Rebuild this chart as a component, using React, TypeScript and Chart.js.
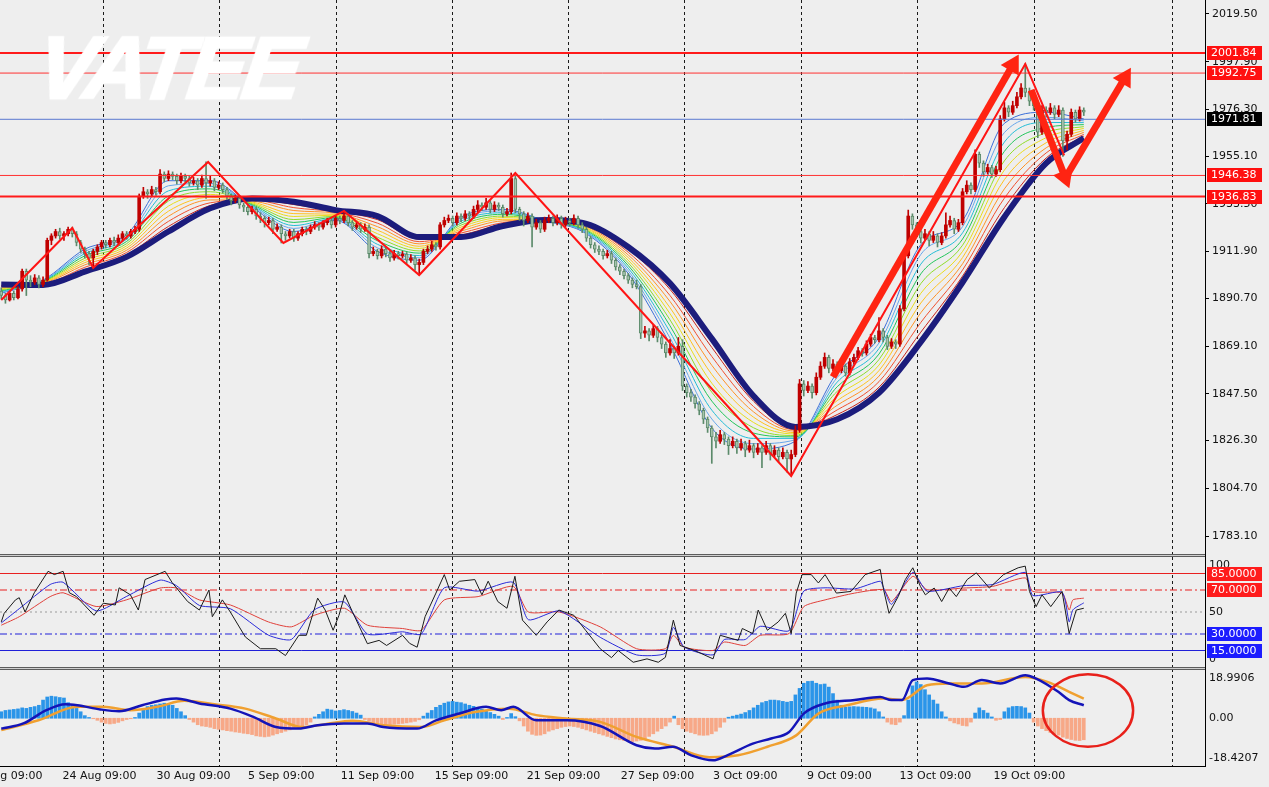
import React, { useEffect, useRef } from 'react';
import { Chart, registerables } from 'chart.js';

Chart.register(...registerables);

// ---------------- DATA ----------------
// H4 candles: [open, high, low, close], bar index = array position
const candles: number[][] = [
  [1894,1895.5,1890.5,1892],[1892,1893,1888.5,1890],[1890,1894,1889.5,1893],[1893,1894,1890,1891],[1891,1896,1890.5,1895],
  [1895,1904,1894,1903],[1903,1904,1892,1899],[1899,1901,1896,1898],[1898,1901.5,1897,1900],[1900,1901,1895.5,1897],
  [1897,1900.5,1896,1899],[1899,1918,1898.5,1917],[1917,1920,1915,1919],[1919,1922,1918,1921],[1921,1922.5,1917.5,1919],
  [1919,1921,1917,1920],[1920,1923,1919,1922],[1922,1923,1918.5,1920],[1920,1921,1914.5,1916],[1916,1917,1911.5,1913],
  [1913,1914,1909,1911],[1911,1912,1906,1909],[1909,1913,1904.5,1912],[1912,1915,1910.5,1914],[1914,1917,1913,1916],
  [1916,1917,1913.5,1915],[1915,1918,1914,1917],[1917,1918.5,1914.5,1916],[1916,1919.5,1915,1918],[1918,1921,1917,1920],
  [1920,1921,1917.5,1919],[1919,1922,1918,1921],[1921,1923.5,1920,1922],[1922,1938,1921,1937],[1937,1941,1936,1939],
  [1939,1940,1936,1938],[1938,1941.5,1937,1940],[1940,1941,1937.5,1939],[1939,1949,1938,1947],[1947,1948,1943.5,1945],
  [1945,1948.5,1944,1947],[1947,1948,1944.5,1946],[1946,1947,1942.5,1944],[1944,1947.5,1943,1946],[1946,1947,1943.5,1945],
  [1945,1946,1941.5,1943],[1943,1945.5,1942,1944],[1944,1945,1940,1942],[1942,1946.5,1941,1945],[1945,1952.5,1936,1943],
  [1943,1946,1941.5,1944],[1944,1945,1939.5,1941],[1941,1943.5,1940,1942],[1942,1943,1938.5,1940],[1940,1941,1935.5,1937],
  [1937,1938,1933,1935],[1935,1937.5,1934,1936],[1936,1937,1931.5,1933],[1933,1934,1930,1932],[1932,1933,1928.5,1930],
  [1930,1932.5,1929,1931],[1931,1932,1926.5,1928],[1928,1929.5,1925,1927],[1927,1928,1923,1925],[1925,1927.5,1924,1926],
  [1926,1927,1920,1922],[1922,1924.5,1921,1923],[1923,1924,1915.8,1920],[1920,1921,1917,1919],[1919,1922,1918,1921],
  [1921,1922,1916.5,1918],[1918,1921,1917,1920],[1920,1923,1919,1922],[1922,1923,1919.5,1921],[1921,1924,1920,1923],
  [1923,1925.5,1922,1924],[1924,1925,1921.5,1923],[1923,1926,1922,1925],[1925,1927,1924,1926],[1926,1927,1922.5,1924],
  [1924,1928,1923,1927],[1927,1928,1924.5,1926],[1926,1930.3,1925,1928],[1928,1929,1923.5,1925],[1925,1926,1921.5,1923],
  [1923,1925.5,1922,1924],[1924,1925,1920.5,1922],[1922,1924.5,1921,1923],[1923,1924,1909,1911],[1911,1914,1910,1912],
  [1912,1913,1908.5,1910],[1910,1914.5,1909,1913],[1913,1914,1909.5,1911],[1911,1912,1907.5,1909],[1909,1912.5,1908,1911],
  [1911,1912,1908.5,1910],[1910,1912,1909,1910.8],[1910.8,1911.5,1906.5,1908],[1908,1910.5,1907,1909],[1909,1910,1903.5,1906],
  [1906,1908.5,1901.3,1907],[1907,1913,1906,1912],[1912,1914.5,1911,1913],[1913,1916.5,1912,1915],[1915,1916,1912.5,1914],
  [1914,1925,1913,1924],[1924,1927.5,1923,1926],[1926,1928.5,1925,1927],[1927,1928,1923.5,1925],[1925,1929.5,1924,1928],
  [1928,1929,1925.5,1927],[1927,1930.5,1926,1929],[1929,1930,1926.5,1928],[1928,1932.5,1927,1931],[1931,1935,1930,1933],
  [1933,1934,1930.5,1932],[1932,1936,1931,1934],[1934,1935,1929.5,1931],[1931,1934.5,1930,1933],[1933,1934,1930.5,1932],
  [1932,1933,1927.5,1929],[1929,1931.5,1928,1930],[1930,1947.5,1929,1945],[1945,1946,1929.5,1931],[1931,1932,1926,1929],
  [1929,1930,1923.5,1926],[1926,1929.5,1925,1928],[1928,1929,1914,1923],[1923,1926.5,1922,1925],[1925,1926,1920.5,1922],
  [1922,1927.5,1921,1926],[1926,1928.5,1925,1927],[1927,1928,1923.5,1925],[1925,1928.5,1924,1927],[1927,1928,1922.5,1924],
  [1924,1927.5,1923,1926],[1926,1927,1923.5,1925],[1925,1928.5,1924,1927],[1927,1928,1922.5,1924],[1924,1925,1920.5,1922],
  [1922,1923,1916.5,1918],[1918,1919,1913.5,1915],[1915,1916,1911.5,1913],[1913,1914.5,1910.5,1912],[1912,1913,1908.5,1910],
  [1910,1912.5,1909,1911],[1911,1912,1906.5,1908],[1908,1909,1903.5,1905],[1905,1906,1901.5,1903],[1903,1904,1899.5,1901],
  [1901,1902,1897.5,1899],[1899,1900,1895.5,1897],[1897,1899,1895,1896],[1896,1897,1872.5,1875],[1875,1878,1873,1876],
  [1876,1877,1871.5,1874],[1874,1878.5,1873,1877],[1877,1878,1871,1873],[1873,1874,1868,1870],[1870,1871,1864,1866],
  [1866,1872,1865,1868],[1868,1869,1863.5,1866],[1866,1873,1865,1869],[1869,1872,1849,1851],[1851,1852,1846,1848],
  [1848,1849.5,1844,1846],[1846,1847,1841,1843],[1843,1844,1838,1840],[1840,1841,1834,1836],[1836,1837,1830,1832],
  [1832,1833,1816,1828],[1828,1830,1823,1826],[1826,1831,1825,1829],[1829,1830,1824.5,1827],[1827,1828,1820,1824],
  [1824,1828,1823,1826],[1826,1827,1820.5,1823],[1823,1827,1822,1825],[1825,1826,1819,1822],[1822,1826.5,1821,1824],
  [1824,1825,1818.5,1821],[1821,1825,1820,1823],[1823,1824,1814,1821],[1821,1826,1820,1824],[1824,1825,1817.5,1820],
  [1820,1824,1819,1822],[1822,1823,1816.5,1819],[1819,1823,1818,1821],[1821,1822,1812,1818],[1818,1822,1810.3,1820],
  [1820,1833,1819,1831],[1831,1854,1830,1852],[1852,1853.5,1846.5,1849],[1849,1853,1848,1851],[1851,1852,1845.5,1848],
  [1848,1857,1847,1855],[1855,1862,1854,1860],[1860,1866,1859,1864],[1864,1865,1857,1859],[1859,1863,1858,1861],
  [1861,1862,1856.5,1858],[1858,1862,1857,1860],[1860,1861,1855.5,1857],[1857,1863.5,1856,1862],[1862,1865.5,1861,1864],
  [1864,1868.5,1863,1867],[1867,1868,1864.5,1866],[1866,1871.5,1865,1870],[1870,1874.5,1869,1873],[1873,1874,1870.5,1872],
  [1872,1882,1871,1876],[1876,1877,1871,1873],[1873,1874,1867.5,1869],[1869,1872.5,1868,1871],[1871,1872,1868,1870],
  [1870,1887.5,1869,1886],[1886,1911,1885,1910],[1910,1930.7,1909,1928],[1928,1929,1922,1924],[1924,1925,1919,1921],
  [1921,1922,1915.8,1918],[1918,1922,1917,1920],[1920,1921,1914.5,1917],[1917,1921,1916,1919],[1919,1920,1914,1916],
  [1916,1920.5,1915,1919],[1919,1929.4,1918,1924],[1924,1928,1923,1926],[1926,1927,1920,1922],[1922,1926.5,1921,1925],
  [1925,1940.5,1924,1939],[1939,1944,1938,1942],[1942,1943,1938,1940],[1940,1958,1939,1956],[1956,1957,1950,1952],
  [1952,1953,1946,1948],[1948,1951.5,1947,1950],[1950,1951,1945.5,1947],[1947,1950.5,1946,1949],[1949,1973.5,1948,1972],
  [1972,1979.5,1971,1977],[1977,1978,1973,1975],[1975,1980,1974,1978],[1978,1984,1977,1982],[1982,1988,1981,1986],
  [1986,1997,1982,1984],[1984,1986,1978,1980],[1980,1982,1976,1978],[1978,1979,1963.5,1966],[1966,1978,1965,1976],
  [1976,1977.5,1973,1975],[1975,1979,1974,1977],[1977,1978,1972,1974],[1974,1978,1973,1976],[1976,1977,1955,1962],
  [1962,1966.5,1958,1965],[1965,1976.5,1964,1975],[1975,1976,1970.5,1972],[1972,1977.5,1971,1976],[1976,1977,1973.5,1975],
];

// moving-average ribbon, sampled at these bars
const maBars = [0,10,20,30,40,50,60,70,80,90,100,110,120,130,140,150,160,170,180,190,200,210,220,230,240,250,259];
const maBlue = [1893,1899,1913,1919.5,1944,1944,1932,1921,1926,1912,1908,1927.5,1931,1926,1920,1902,1870,1832,1822.5,1826,1857,1873,1915,1926,1970,1975,1972];
const maSky = [1893.4,1898.8,1912,1918.5,1941.7,1942.8,1932.4,1922.4,1926.5,1913.6,1909.1,1926.6,1930.3,1926,1920.5,1903.2,1872.8,1836.1,1824.9,1826.7,1854.9,1870.5,1910.6,1923.2,1965.8,1972.7,1971.1];
const maCyan = [1893.8,1898.6,1911,1917.5,1939.4,1941.5,1932.8,1923.7,1926.9,1915.2,1910.1,1925.7,1929.5,1926,1920.9,1904.4,1875.5,1840.1,1827.3,1827.3,1852.8,1868,1906.2,1920.4,1961.5,1970.4,1970.3];
const maGreen = [1894.2,1898.3,1910,1916.5,1937.1,1940.3,1933.2,1925.1,1927.4,1916.8,1911.2,1924.8,1928.8,1926.1,1921.4,1905.6,1878.3,1844.2,1829.7,1828,1850.7,1865.5,1901.8,1917.6,1957.3,1968.1,1969.4];
const maLime = [1894.6,1898.1,1908.9,1915.5,1934.8,1939,1933.6,1926.4,1927.9,1918.4,1912.2,1923.9,1928,1926.1,1921.8,1906.8,1881,1848.2,1832.1,1828.6,1848.6,1863,1897.4,1914.8,1953,1965.8,1968.5];
const maYellow = [1895,1897.9,1907.9,1914.5,1932.5,1937.8,1934,1927.8,1928.4,1920,1913.3,1923,1927.3,1926.1,1922.3,1908,1883.8,1852.3,1834.5,1829.3,1846.5,1860.5,1893,1912,1948.8,1963.5,1967.7];
const maGold = [1895.4,1897.7,1906.9,1913.5,1930.2,1936.5,1934.4,1929.1,1928.8,1921.6,1914.3,1922.1,1926.5,1926.1,1922.7,1909.2,1886.5,1856.3,1836.9,1829.9,1844.4,1858,1888.6,1909.2,1944.5,1961.2,1966.8];
const maOrange = [1895.8,1897.5,1905.9,1912.5,1927.9,1935.3,1934.8,1930.5,1929.3,1923.2,1915.4,1921.2,1925.8,1926.1,1923.2,1910.4,1889.3,1860.4,1839.3,1830.6,1842.3,1855.5,1884.2,1906.4,1940.3,1958.9,1965.9];
const maRed = [1896.2,1897.2,1904.8,1911.5,1925.6,1934,1935.2,1931.8,1929.8,1924.8,1916.4,1920.3,1925,1926.2,1923.6,1911.6,1892,1864.4,1841.7,1831.2,1840.2,1853,1879.8,1903.6,1936.1,1956.6,1965];
const maCrimson = [1896.6,1897,1903.8,1910.5,1923.3,1932.8,1935.6,1933.2,1930.2,1926.4,1917.5,1919.4,1924.3,1926.2,1924.1,1912.8,1894.8,1868.5,1844.1,1831.9,1838.1,1850.5,1875.4,1900.8,1931.8,1954.3,1964.2];
const maNavy = [1897,1896.8,1902.8,1909.5,1921,1931.5,1936,1934.5,1930.7,1928,1918.5,1918.5,1923.5,1926.2,1924.5,1914,1897.5,1872.5,1846.5,1832.5,1836,1848,1871,1898,1927.6,1952,1963.3];

// zigzag vertices [bar, price]
const zigzag = [[0,1890],[17,1922.6],[22,1904.5],[49.5,1952.5],[67.5,1915.8],[82,1930.3],[100,1901.3],[123,1947.5],[189,1810.3],[245,1996.9],[254.3,1955.5]];
// hand-drawn arrows [[bar, price] start, [bar, price] tip]
const arrowRally = [[199,1855.1],[242,1996.4]];
const arrowDrop = [[246.4,1985.1],[254.5,1945.7]];
const arrowNext = [[255,1946.6],[268.8,1990.5]];

// horizontal price levels
const levelPrices = [2001.84, 1992.75, 1971.81, 1946.38, 1936.83];
const priceTicks = [2019.5,1997.9,1976.3,1955.1,1933.5,1911.9,1890.7,1869.1,1847.5,1826.3,1804.7,1783.1];

// time axis
const timeLabels = ['18 Aug 09:00','24 Aug 09:00','30 Aug 09:00','5 Sep 09:00','11 Sep 09:00','15 Sep 09:00','21 Sep 09:00','27 Sep 09:00','3 Oct 09:00','9 Oct 09:00','13 Oct 09:00','19 Oct 09:00'];
const timeLabelBars = [1,23.5,46,67,90,112.5,134.5,157,178,200.5,223.5,246];
const gridBars = [24.4,52.2,80.1,108,135.8,163.5,191.5,219.3,247.2,280.3];

// oscillator pane (three RSI-type lines) [bar, value]
const rsiFast = [[0,41],[0.7,48.8],[3.4,61],[4.3,63],[5.7,50],[7.9,67.5],[11.2,87],[12.7,84],[14.8,87],[16.3,67.5],[18,64],[22.2,47],[24.4,58],[27.3,56.4],[28.2,72],[30.9,65.6],[32.8,51.8],[34.4,79.5],[39.2,87],[40.9,76.7],[44.6,59.5],[47.4,51.8],[49.7,70],[50.5,45.7],[52.9,61],[54.8,50],[58.4,27.3],[62,16.6],[65.7,16.6],[68,10.4],[71.2,28.8],[73,28.8],[75.7,62.6],[77.5,51.8],[79.4,33.4],[80.8,47],[82.2,65.6],[84,50.3],[87.6,21.2],[90.4,24.2],[92.2,19.6],[96,28.8],[97.7,21.5],[99.5,18],[101.4,45.7],[104,67.2],[106,84],[107.3,70],[109.6,77.9],[113.3,79.5],[115,65.6],[116.5,78],[118.8,59.5],[121,53.4],[122.9,82.5],[124.7,42.6],[128,28.8],[130.6,41],[133.4,51.8],[137,47],[139.8,33.4],[143.3,16.6],[146,8.5],[147.6,15],[151.2,4.3],[154.5,7.4],[157.2,4.3],[158.9,8.8],[160.8,42.6],[162.4,19.6],[165.9,15],[170.3,7.4],[172,28.8],[176.3,24.2],[177.3,35],[179.8,30.4],[181.1,51.8],[183.3,33.4],[185.9,41],[187.6,48.8],[189,30.4],[190.2,67.2],[191.6,84],[193.8,84],[195.5,76.4],[197.1,84],[199.8,67.2],[203.3,68.7],[206.7,84],[210.3,88.7],[211.1,70.3],[212.4,48.8],[214.6,64],[216.3,79.5],[218.1,90.2],[219.9,73.3],[221.1,65.6],[223.2,71.8],[225,59.5],[226.8,71.8],[228.5,64],[231.1,79.5],[233.3,85.6],[236.4,71.8],[239.8,84],[243.3,90.2],[245,91.7],[246,68.7],[247.6,54.9],[249,65.6],[251.1,54.9],[253.8,68.7],[255.5,30.4],[257.2,51.8],[259,53.4]];
const rsiMid = [[0,40],[4.3,53],[11.7,75],[14.8,77],[22.7,51],[29.9,64],[38,79],[41.9,74],[47.4,56],[54.8,53],[63.9,29],[69.4,25],[74.9,52],[82.1,59],[87.6,30],[96,32],[100.5,30],[106,72],[114.1,69],[122.5,77],[126.1,43],[133.5,51],[143.3,27],[152,11],[158.9,12.5],[160.8,36],[163.4,18],[170.3,11],[173,25],[178,25],[181.6,37],[188.5,33],[192,69],[197.1,72],[204.2,71],[210.3,78],[211.1,72],[213,57],[218.1,86],[221.5,69],[230.3,74],[237.2,75],[245,86],[246.8,65],[253.8,68],[255.5,41],[256.4,52],[259,58.3]];
const rsiSlow = [[0,38],[4.3,45.7],[11.7,64],[14.8,67.5],[22.7,55],[29.9,61],[38,71.8],[41.9,71.8],[47.4,61],[54.8,56.4],[63.9,41],[69.4,36.5],[74.9,47],[82.1,53.4],[87.6,38],[96,35],[100.5,33.4],[106,61],[114.1,64],[122.5,73.3],[126.1,50],[133.5,50],[143.3,36.5],[152,16.6],[158.9,16.6],[160.8,28.8],[163.4,18],[170.3,15],[173,22.7],[178,19.6],[181.6,28.8],[188.5,30.4],[192,54.9],[197.1,61],[204.2,67.2],[211.1,70.3],[213,59.5],[218.1,82.5],[221.5,70.3],[230.3,71.8],[237.2,73.3],[245,81],[246.8,68.7],[253.8,67.2],[255.5,51.8],[256.4,61],[259,62.6]];
const rsiLevels = [85, 70, 50, 30, 15];
const rsiTickLabels = ['100', '50', '0'];
const rsiTickPositions = [93, 50, 7];

// MACD pane
const macdHist = [
  2.5,3,3.2,3.4,3.6,4,3.8,4.2,4.5,5,
  7,8.2,8.5,8.3,8,7.8,6,5,3.8,2.5,
  1,0.3,-0.2,-0.8,-1.5,-2,-2.2,-2,-1.6,-1,
  -0.5,-0.2,0.3,2,3.5,4.5,5,5.2,5.5,5.8,
  5.5,5,3.8,2.5,1,-0.5,-1.5,-2.5,-3,-3.2,
  -3.5,-4,-4.3,-4.5,-4.8,-5,-5.3,-5.5,-5.8,-6,
  -6.3,-6.8,-7,-7.2,-7,-6.5,-6,-5.5,-5,-4.5,
  -4,-3.5,-3,-2.5,-1.5,0.5,1.5,2.5,3.5,3.2,
  2.8,3,3.3,3,2.6,2,1.2,-0.5,-1.2,-1.8,
  -2.2,-2.4,-2.5,-2.4,-2.3,-2.2,-2,-1.8,-1.5,-1.2,
  -0.6,0.8,2,3,4.2,5,5.8,6.3,6.5,6.2,
  6,5.5,5,4.6,4,3.5,3,2.2,1.5,0.8,
  -0.5,0.3,1.8,0.6,-1,-3,-5,-6.2,-6.6,-6.5,
  -6,-5,-4.5,-4,-3.5,-3.2,-3,-3.2,-3.5,-4,
  -4.5,-5,-5.5,-6,-6.5,-7,-7.5,-8,-8.3,-8.6,
  -8.8,-9,-8.8,-8.5,-8,-7,-6,-5,-4,-3,
  -1.5,0.8,-2.5,-4,-5,-5.5,-6,-6.5,-6.6,-6.5,
  -6,-5,-3.5,-1.5,0.4,0.8,1.2,1.6,2.2,3,
  4,5,6,6.5,7,7,6.8,6.5,6.2,6.5,
  9,11.5,13.5,14.2,14.3,13.5,13,13.2,12,9.5,
  7,5,4.2,4.4,4.5,4.4,4.3,4.2,4,3.6,
  2.5,0.5,-1.5,-2.3,-2.5,-1.5,1,7,12.5,14,
  13,11,9,7,5.5,2.5,0.5,-1,-1.8,-2.2,
  -2.8,-3,-1.5,2,4,3,2,0.5,-0.8,-0.5,
  2.5,4,4.5,4.6,4.5,4,2,-1.5,-3,-4,
  -4.8,-5.5,-6,-6.5,-7.3,-7.8,-8.2,-8.5,-8.6,-8.3,
];
const macdLine = [[0,-4],[5.3,-2],[10.8,3.1],[15.3,5.4],[18.2,5],[23.7,3.4],[28.2,2.7],[33.7,5],[39.2,7.2],[41.9,7.6],[47.4,5.7],[54.8,3.7],[60.3,0.5],[65.7,-3.4],[71.2,-4],[75.7,-2.7],[82,-2],[87.6,-2],[91.4,-3.4],[99.5,-4],[104,-0.8],[109.6,1.8],[116,4.4],[119.6,3.1],[122.5,4.4],[128,-0.8],[135.2,-0.8],[143.3,-3],[152,-10.4],[156.4,-11.7],[160.7,-11],[165.1,-14.3],[170.3,-16.2],[173.7,-14.3],[179.8,-9.8],[184.2,-7.8],[188.5,-5.3],[192,1.8],[197.1,5.7],[204.2,7],[210.3,8.2],[213,7],[215.5,7],[218.1,14.7],[221.5,15.3],[226.8,13.4],[230.3,12.1],[234.6,14.7],[239,13.4],[245,16.6],[247.6,15.3],[252.9,10.2],[255.5,7],[259,5]];
const signalLine = [[0,-4.6],[8.9,-0.8],[18.2,4.4],[24.4,4.4],[30.9,3.1],[37.3,4.4],[43.8,6.7],[51,5.4],[58.4,3.7],[65.7,-0.1],[72,-3.4],[77.5,-2.3],[84,-1],[91.4,-2.7],[100.5,-3.4],[106,-0.8],[113.3,2.4],[121.5,3.7],[128,1.2],[135.2,-0.1],[143.3,-1.4],[152,-7.2],[160.8,-11],[169.4,-15],[176.3,-14.3],[183.3,-11],[190.2,-6.6],[195.5,1.8],[202.4,5],[211.1,7.6],[215.5,7],[221.5,12.7],[226.8,13.4],[234.6,13.4],[245,15.9],[250.3,14],[255.5,10.2],[259,7.6]];
const macdRange = [-18.4207, 18.9906];
const macdTickLabels = ['18.9906', '0.00', '-18.4207'];
const macdTickPositions = [15.5, 0, -15.3];
// annotation ellipse around the latest MACD bars: [bar, value, half-width in bars, half-height in value]
const macdCircle = [260, 3, 10.8, 14];

// ---------------- STYLE ----------------
const BG = '#eeeeee';
const W = 1269;
const AXIS_W = 64;
const X_MIN = -0.3;
const X_MAX = 288;
const PRICE_MAX = 2025.84;
const PRICE_MIN = 1774.95;
const FONT = { family: '"DejaVu Sans", "Liberation Sans", sans-serif', size: 11 };
const UP = '#c00000';
const DOWN_FILL = '#a7c4af';
const DOWN_LINE = '#5b8a6a';
const ribbon = [
  { data: maCrimson, color: '#c8241c' },
  { data: maRed, color: '#f0502e' },
  { data: maOrange, color: '#ff9226' },
  { data: maGold, color: '#ffc21f' },
  { data: maYellow, color: '#e8dc1e' },
  { data: maLime, color: '#8fdc2a' },
  { data: maGreen, color: '#22c55a' },
  { data: maCyan, color: '#23bcd6' },
  { data: maSky, color: '#67a6ea' },
  { data: maBlue, color: '#3b6fd8' },
];
const levelStyles = [
  { color: '#ff1a1a', width: 2, tag: '#ff1010' },
  { color: '#ff3030', width: 1, tag: '#ff1010' },
  { color: '#5a78d0', width: 1, tag: '#000000' },
  { color: '#ff3030', width: 1, tag: '#ff1010' },
  { color: '#ff1a1a', width: 2, tag: '#ff1010' },
];
const rsiLevelStyles = [
  { color: '#e82020', dash: [], tag: '#ff1c1c' },
  { color: '#e82020', dash: [7, 3, 2, 3], tag: '#ff1c1c' },
  { color: '#9a9a9a', dash: [2, 3], tag: null },
  { color: '#2020d8', dash: [7, 3, 2, 3], tag: '#1c1cff' },
  { color: '#2020d8', dash: [], tag: '#1c1cff' },
];

Chart.defaults.font.family = FONT.family;
Chart.defaults.font.size = FONT.size;
Chart.defaults.color = '#111111';

// ---------------- helpers ----------------
const pts = (arr: number[][]) => arr.map((p) => ({ x: p[0], y: p[1] }));

function xAxes(withLabels: boolean): any {
  return {
    x: {
      type: 'linear', position: 'bottom', min: X_MIN, max: X_MAX, offset: false, bounds: 'data',
      display: withLabels,
      grid: { display: false, drawTicks: false, offset: false },
      border: { display: true, color: '#000000', width: 1 },
      ticks: {
        autoSkip: false, maxRotation: 0, minRotation: 0, padding: 4, color: '#111111', font: FONT,
        callback: (_v: any, i: number) => timeLabels[i] ?? '',
      },
      afterBuildTicks: (s: any) => { s.ticks = timeLabelBars.map((v) => ({ value: v })); },
      afterFit: (s: any) => { s.paddingLeft = 0; s.paddingRight = 0; if (withLabels) s.height = 21; },
    },
    xg: {
      type: 'linear', position: 'top', min: X_MIN, max: X_MAX, offset: false, bounds: 'data',
      display: true,
      grid: { display: true, drawTicks: false, color: '#1a1a1a', lineWidth: 1, offset: false },
      border: { display: false, dash: [3, 3] },
      ticks: { display: false },
      afterBuildTicks: (s: any) => { s.ticks = gridBars.map((v) => ({ value: v })); },
      afterFit: (s: any) => { s.height = 0; s.paddingLeft = 0; s.paddingRight = 0; },
    },
  };
}

const tagPlugin = {
  id: 'levelTags',
  afterDraw(chart: any, _a: any, opts: any) {
    const tags = opts && opts.tags;
    if (!tags) return;
    const ys = chart.scales.y;
    const ctx = chart.ctx;
    ctx.save();
    ctx.font = `11px ${FONT.family}`;
    ctx.textBaseline = 'middle';
    ctx.textAlign = 'left';
    for (const t of tags) {
      const py = Math.round(ys.getPixelForValue(t.value));
      ctx.fillStyle = t.bg;
      ctx.fillRect(ys.left + 2, py - 7, 55, 14);
      ctx.fillStyle = '#ffffff';
      ctx.fillText(t.text, ys.left + 6, py + 0.5);
    }
    ctx.restore();
  },
};

const circlePlugin = {
  id: 'circleNote',
  afterDatasetsDraw(chart: any, _a: any, opts: any) {
    const c = opts && opts.circle;
    if (!c) return;
    const xs = chart.scales.x;
    const ys = chart.scales.y;
    const cx = xs.getPixelForValue(c[0]);
    const cy = ys.getPixelForValue(c[1]);
    const rx = Math.abs(xs.getPixelForValue(c[0] + c[2]) - cx);
    const ry = Math.abs(ys.getPixelForValue(c[1] - c[3]) - cy);
    const ctx = chart.ctx;
    ctx.save();
    ctx.strokeStyle = '#e8201a';
    ctx.lineWidth = 2.5;
    ctx.beginPath();
    ctx.ellipse(cx, cy, rx, ry, 0, 0, Math.PI * 2);
    ctx.stroke();
    ctx.restore();
  },
};

function arrowDataset(arr: number[][]): any {
  return {
    type: 'line', data: pts(arr), borderColor: '#ff2412', backgroundColor: '#ff2412', borderWidth: 7,
    pointRadius: [0, 12], pointHoverRadius: 0, pointStyle: 'triangle', pointBorderWidth: 0,
    pointBackgroundColor: '#ff2412',
    pointRotation: (ctx: any) => {
      const ch = ctx.chart;
      const d = ch.data.datasets[ctx.datasetIndex].data;
      const dx = ch.scales.x.getPixelForValue(d[1].x) - ch.scales.x.getPixelForValue(d[0].x);
      const dy = ch.scales.y.getPixelForValue(d[1].y) - ch.scales.y.getPixelForValue(d[0].y);
      return (Math.atan2(dx, -dy) * 180) / Math.PI;
    },
    order: 0, clip: false,
  };
}

const baseOptions = {
  responsive: false, maintainAspectRatio: false, animation: false, devicePixelRatio: 1,
  events: [], layout: { padding: 0, autoPadding: false },
};

// ---------------- chart builders ----------------
function buildMain(): any {
  const bull = candles.map((c) => c[3] >= c[0]);
  const datasets: any[] = [
    ...ribbon.map((r) => ({
      type: 'line', data: maBars.map((b, j) => ({ x: b, y: r.data[j] })), borderColor: r.color,
      borderWidth: 1, pointRadius: 0, cubicInterpolationMode: 'monotone', order: 7,
    })),
    {
      type: 'line', data: maBars.map((b, j) => ({ x: b, y: maNavy[j] })), borderColor: '#1c1c7c',
      borderWidth: 6, pointRadius: 0, cubicInterpolationMode: 'monotone', order: 6,
    },
    ...levelPrices.map((p, k) => ({
      type: 'line', data: [{ x: X_MIN, y: p }, { x: X_MAX, y: p }], borderColor: levelStyles[k].color,
      borderWidth: levelStyles[k].width, pointRadius: 0, order: 3,
    })),
    {
      type: 'bar', data: candles.map((c, i) => ({ x: i, y: [c[2], c[1]] })),
      backgroundColor: bull.map((b) => (b ? UP : DOWN_LINE)), barThickness: 1, grouped: false, order: 5,
    },
    {
      type: 'bar', data: candles.map((c, i) => ({ x: i, y: [c[0], c[3]] })),
      backgroundColor: bull.map((b) => (b ? UP : DOWN_FILL)), borderColor: bull.map((b) => (b ? UP : DOWN_LINE)),
      borderWidth: bull.map((b) => (b ? 0 : 1)), borderSkipped: false, barThickness: 3, grouped: false, order: 4,
    },
    {
      type: 'line', data: pts(zigzag), borderColor: '#ff1414', borderWidth: 2, pointRadius: 0, order: 1,
    },
    arrowDataset(arrowRally),
    arrowDataset(arrowDrop),
    arrowDataset(arrowNext),
  ];
  return {
    type: 'bar',
    data: { datasets },
    options: {
      ...baseOptions,
      plugins: {
        legend: { display: false }, tooltip: { enabled: false },
        levelTags: { tags: levelPrices.map((p, k) => ({ value: p, text: p.toFixed(2), bg: levelStyles[k].tag })) },
      },
      scales: {
        ...xAxes(false),
        y: {
          type: 'linear', position: 'right', min: PRICE_MIN, max: PRICE_MAX, bounds: 'data',
          grid: { display: true, drawOnChartArea: false, drawTicks: true, tickLength: 4, tickColor: '#000000', tickWidth: 1 },
          border: { display: true, color: '#000000', width: 1 },
          ticks: { autoSkip: false, padding: 3, color: '#111111', font: FONT, callback: (v: any) => Number(v).toFixed(2) },
          afterBuildTicks: (s: any) => { s.ticks = priceTicks.map((v) => ({ value: v })); },
          afterFit: (s: any) => { s.width = AXIS_W; s.paddingTop = 0; s.paddingBottom = 0; },
        },
      },
    },
    plugins: [tagPlugin],
  };
}

function buildRsi(): any {
  const datasets: any[] = [
    ...rsiLevels.map((lv, k) => ({
      type: 'line', data: [{ x: X_MIN, y: lv }, { x: X_MAX, y: lv }], borderColor: rsiLevelStyles[k].color,
      borderDash: rsiLevelStyles[k].dash, borderWidth: 1, pointRadius: 0, order: 5,
    })),
    { type: 'line', data: pts(rsiSlow), borderColor: '#e0403a', borderWidth: 1, pointRadius: 0, tension: 0.2, order: 3 },
    { type: 'line', data: pts(rsiMid), borderColor: '#2b2bd9', borderWidth: 1, pointRadius: 0, tension: 0.2, order: 2 },
    { type: 'line', data: pts(rsiFast), borderColor: '#1a1a1a', borderWidth: 1, pointRadius: 0, order: 1 },
  ];
  return {
    type: 'line',
    data: { datasets },
    options: {
      ...baseOptions,
      plugins: {
        legend: { display: false }, tooltip: { enabled: false },
        levelTags: {
          tags: rsiLevels
            .map((lv, k) => ({ value: lv, text: lv.toFixed(4), bg: rsiLevelStyles[k].tag }))
            .filter((t) => t.bg),
        },
      },
      scales: {
        ...xAxes(false),
        y: {
          type: 'linear', position: 'right', min: 0, max: 100, bounds: 'data',
          grid: { display: false, drawTicks: false },
          border: { display: true, color: '#000000', width: 1 },
          ticks: { autoSkip: false, padding: 4, color: '#111111', font: FONT, callback: (_v: any, i: number) => rsiTickLabels[i] },
          afterBuildTicks: (s: any) => { s.ticks = rsiTickPositions.map((v) => ({ value: v })); },
          afterFit: (s: any) => { s.width = AXIS_W; s.paddingTop = 0; s.paddingBottom = 0; },
        },
      },
    },
    plugins: [tagPlugin],
  };
}

function buildMacd(): any {
  const datasets: any[] = [
    {
      type: 'bar', data: macdHist.map((v, i) => ({ x: i, y: v })),
      backgroundColor: macdHist.map((v) => (v >= 0 ? '#2b95e9' : '#f7a887')), barThickness: 3, grouped: false, order: 5,
    },
    { type: 'line', data: pts(signalLine), borderColor: '#f0a030', borderWidth: 2.5, pointRadius: 0, cubicInterpolationMode: 'monotone', order: 2 },
    { type: 'line', data: pts(macdLine), borderColor: '#1414b8', borderWidth: 2.5, pointRadius: 0, cubicInterpolationMode: 'monotone', order: 1 },
  ];
  return {
    type: 'bar',
    data: { datasets },
    options: {
      ...baseOptions,
      plugins: { legend: { display: false }, tooltip: { enabled: false }, circleNote: { circle: macdCircle } },
      scales: {
        ...xAxes(true),
        y: {
          type: 'linear', position: 'right', min: macdRange[0], max: macdRange[1], bounds: 'data',
          grid: { display: false, drawTicks: false },
          border: { display: true, color: '#000000', width: 1 },
          ticks: { autoSkip: false, padding: 4, color: '#111111', font: FONT, callback: (_v: any, i: number) => macdTickLabels[i] },
          afterBuildTicks: (s: any) => { s.ticks = macdTickPositions.map((v) => ({ value: v })); },
          afterFit: (s: any) => { s.width = AXIS_W; s.paddingTop = 0; s.paddingBottom = 0; },
        },
      },
    },
    plugins: [circlePlugin],
  };
}

// ---------------- components ----------------
function Pane({ build, top, height }: { build: () => any; top: number; height: number }) {
  const ref = useRef<HTMLCanvasElement>(null);
  useEffect(() => {
    const chart = new Chart(ref.current as HTMLCanvasElement, build());
    return () => chart.destroy();
  }, []);
  return (
    <canvas
      ref={ref}
      width={W}
      height={height}
      style={{ position: 'absolute', left: 0, top, width: W, height, display: 'block' }}
    />
  );
}

const sepStyle = (top: number): React.CSSProperties => ({
  position: 'absolute', left: 0, top, width: W - AXIS_W + 1, height: 3, boxSizing: 'border-box',
  borderTop: '1px solid #5c5c5c', borderBottom: '1px solid #5c5c5c', background: '#cfcfcf', zIndex: 2,
});

export default function App() {
  useEffect(() => {
    document.body.style.margin = '0';
    document.body.style.background = BG;
  }, []);
  return (
    <div style={{ position: 'absolute', left: 0, top: 0, width: W, height: 787, background: BG, overflow: 'hidden' }}>
      <Pane build={buildMain} top={0} height={554} />
      <div style={sepStyle(554)} />
      <Pane build={buildRsi} top={557} height={110} />
      <div style={sepStyle(667)} />
      <Pane build={buildMacd} top={669} height={118} />
      <div style={{ position: 'absolute', left: W - AXIS_W, top: 0, width: 1, height: 766, background: '#000', zIndex: 2 }} />
      <div
        style={{
          position: 'absolute', left: 38, top: 23, zIndex: 3, pointerEvents: 'none',
          fontFamily: '"Liberation Sans", Arial, sans-serif', fontWeight: 700, fontStyle: 'italic',
          fontSize: 88, lineHeight: '90px', letterSpacing: -4, color: '#ffffff',
          WebkitTextStroke: '2.5px #ffffff', transform: 'skewX(-8deg)', whiteSpace: 'nowrap',
        }}
      >
        VATEE
      </div>
    </div>
  );
}
